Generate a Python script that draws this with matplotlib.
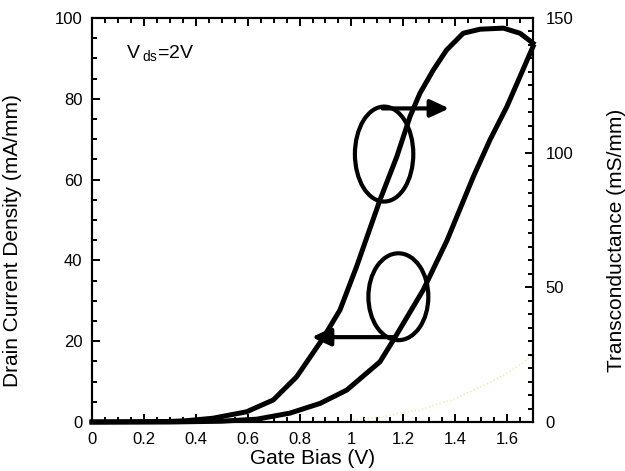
import matplotlib
matplotlib.use("Agg")
import matplotlib.pyplot as plt
from matplotlib.patches import Ellipse
from matplotlib.ticker import MultipleLocator, FormatStrFormatter

plt.rcParams['font.family'] = ['Liberation Sans', 'DejaVu Sans']
plt.rcParams['mathtext.default'] = 'regular'

# drain current density (left axis, mA/mm)
vg_id = [0, 0.3, 0.5, 0.635, 0.763, 0.879, 0.982, 1.11, 1.162, 1.277, 1.369, 1.47, 1.534, 1.599, 1.65, 1.70]
id_vals = [0, 0, 0.2, 0.7, 2.2, 4.6, 7.9, 14.9, 20.3, 32.7, 45, 60.7, 69.8, 78.0, 85.5, 92.9]

# transconductance (right axis, mS/mm)
vg_gm = [0, 0.3, 0.365, 0.466, 0.596, 0.699, 0.789, 0.89, 0.956, 1.02, 1.11, 1.175, 1.226, 1.264,
         1.316, 1.367, 1.431, 1.496, 1.586, 1.65, 1.70]
gm_vals = [0, 0.2, 0.5, 1.4, 3.8, 8.2, 16.8, 31, 41.6, 57.7, 82.4, 98.5, 113.4, 122,
           130.7, 138.1, 144.3, 145.8, 146.2, 144.3, 140.6]

# faint trace near the bottom
vg_faint = [1.006, 1.118, 1.168, 1.218, 1.276, 1.33, 1.387, 1.437, 1.487, 1.545, 1.6, 1.658, 1.708]
faint_vals = [0.5, 1.2, 2, 2.5, 3.2, 4.5, 5.4, 6.9, 8.4, 10.1, 12.1, 14.5, 17]

fig = plt.figure(figsize=(6.25, 4.71), dpi=100)
ax = fig.add_axes([0.1472, 0.104, 0.7056, 0.858])
ax2 = ax.twinx()

ax.plot(vg_faint, faint_vals, color='#f2e6a8', lw=1, ls=':')
ax.plot(vg_id, id_vals, color='k', lw=3.6, clip_on=False, solid_joinstyle='round')
ax2.plot(vg_gm, gm_vals, color='k', lw=3.6, clip_on=False, solid_joinstyle='round')

# ellipses + arrows
ax.add_patch(Ellipse((1.126, 66.3), 0.225, 23.5, fill=False, ec='k', lw=3))
ax.add_patch(Ellipse((1.181, 31.0), 0.231, 21.5, fill=False, ec='k', lw=3))
arrow = dict(arrowstyle='-|>,head_length=0.75,head_width=0.35', lw=3, color='k',
             shrinkA=0, shrinkB=0, mutation_scale=15)
ax.annotate('', xy=(1.377, 77.6), xytext=(1.12, 77.6), arrowprops=arrow)
ax.annotate('', xy=(0.847, 21.0), xytext=(1.16, 21.0), arrowprops=arrow)

ax.text(0.13, 90, r'V$\,_{ds}$=2V', fontsize=14, va='baseline', ha='left')

ax.set_xlim(0, 1.7)
ax.set_ylim(0, 100)
ax2.set_ylim(0, 150)

ax.xaxis.set_major_locator(MultipleLocator(0.2))
ax.xaxis.set_minor_locator(MultipleLocator(0.05))
ax.xaxis.set_major_formatter(FormatStrFormatter('%g'))
ax.yaxis.set_major_locator(MultipleLocator(20))
ax.yaxis.set_minor_locator(MultipleLocator(5))
ax2.yaxis.set_major_locator(MultipleLocator(50))
ax2.yaxis.set_minor_locator(MultipleLocator(5))

ax.tick_params(which='both', direction='in', top=True, right=False, width=1.4, labelsize=12, pad=7)
ax.tick_params(which='major', length=6)
ax.tick_params(which='minor', length=3.5)
ax2.tick_params(which='both', direction='in', width=1.4, labelsize=12, pad=9)
ax2.tick_params(which='major', length=6)
ax2.tick_params(which='minor', length=3.5)

for a in (ax, ax2):
    for s in a.spines.values():
        s.set_linewidth(1.5)

ax.set_xlabel('Gate Bias (V)', fontsize=15)
ax.set_ylabel('Drain Current Density (mA/mm)', fontsize=15)
ax2.set_ylabel('Transconductance (mS/mm)', fontsize=15)
ax.xaxis.set_label_coords(0.5, -0.066)
ax.yaxis.set_label_coords(-0.158, 0.45)
ax2.yaxis.set_label_coords(1.168, 0.45)

fig.savefig('out.png', dpi=100)
